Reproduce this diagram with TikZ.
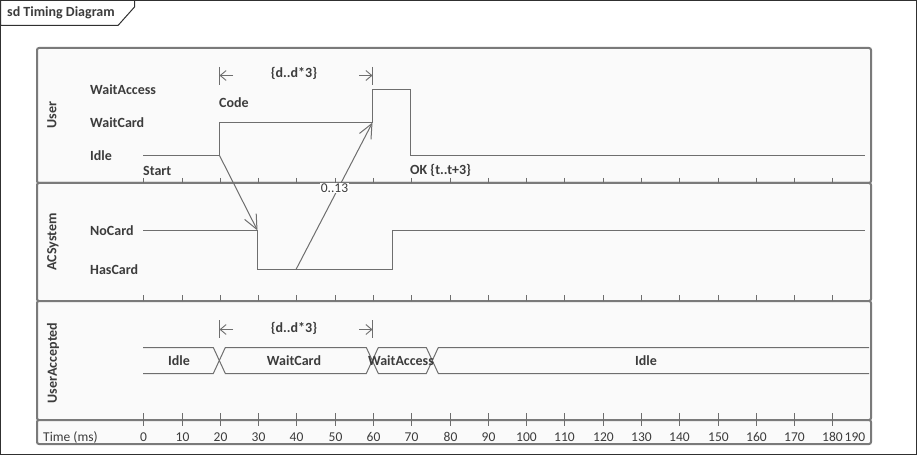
\documentclass[tikz,border=0pt]{standalone}
\usepackage{fontspec}
\setmainfont{Carlito}
\usetikzlibrary{arrows.meta}
\definecolor{txt}{HTML}{3C3C3C}
\definecolor{ln}{HTML}{6E6E6E}
\definecolor{lanec}{HTML}{7A7A7A}
\definecolor{lanefill}{HTML}{FAFAFA}
\definecolor{framec}{HTML}{303030}
\begin{document}
\begin{tikzpicture}[x=1pt,y=-1pt,
  lbl/.style={text=txt, font=\fontsize{14}{16}\selectfont\bfseries, inner sep=0pt},
  reg/.style={text=txt, font=\fontsize{13.5}{16}\selectfont, inner sep=0pt},
  lanebox/.style={draw=lanec, line width=2pt, fill=lanefill, rounded corners=2pt},
  sig/.style={draw=ln, line width=1pt},
  msg/.style={draw=ln, line width=1pt, -{Straight Barb[length=14.5pt,width=13pt]}},
  dur/.style={draw=ln, line width=0.9pt, -{Straight Barb[length=6pt,width=10pt]}},
  tick/.style={draw=ln, line width=1pt}
]
\useasboundingbox (0,0) rectangle (918,457);
% outer frame and header
\draw[framec, line width=1pt] (0.5,0.5) rectangle (916.5,454.5);
\draw[framec, line width=1pt, fill=white] (0.5,0.5) -- (134.5,0.5) -- (134.5,7) -- (118,25.5) -- (0.5,25.5) -- cycle;
\node[lbl, anchor=west] (title) at (7,12.5) {sd Timing Diagram};

% lanes
\draw[lanebox] (37,48) rectangle (871,183);
\draw[lanebox] (37,183) rectangle (871,301);
\draw[lanebox] (37,301) rectangle (871,420);
\draw[lanebox] (37,420) rectangle (871,444);

% lane names
\node[lbl, rotate=90] (lnUser) at (52,115) {User};
\node[lbl, rotate=90] (lnAC) at (53,242) {ACSystem};
\node[lbl, rotate=90] (lnUA) at (53,363) {UserAccepted};

% ticks and time labels
\foreach \t in {0,10,...,180} {
  \pgfmathsetmacro{\xx}{round(143.3+3.828*\t)+0.5}
  \draw[tick] (\xx,178) -- (\xx,183);
  \draw[tick] (\xx,295) -- (\xx,301);
  \draw[tick] (\xx,413) -- (\xx,426);
  \node[reg] (tl\t) at (\xx,437) {\t};
}
\node[reg] (tl190) at (855,437) {190};
\node[reg, anchor=west] (timelbl) at (43,437) {Time (ms)};

% User lane state labels
\node[lbl, anchor=west] (sWA) at (90,89.5) {WaitAccess};
\node[lbl, anchor=west] (sWC) at (90,122.5) {WaitCard};
\node[lbl, anchor=west] (sId) at (90,155.5) {Idle};
\node[lbl, anchor=west] (start) at (143,170.5) {Start};
\node[lbl, anchor=west] (code) at (219,102.5) {Code};
\node[lbl, anchor=west] (ok) at (410,170.5) {OK {\{}t..t+3{\}}};

% User timeline
\coordinate (u0) at (143,155.5);
\coordinate (u20) at (219.5,155.5);
\coordinate (u20w) at (219.5,122.5);
\coordinate (u60w) at (372.5,122.5);
\coordinate (u60a) at (372.5,89.5);
\coordinate (u70a) at (410.5,89.5);
\coordinate (u70i) at (410.5,155.5);
\coordinate (uend) at (865,155.5);
\draw[sig] (u0) -- (u20) -- (u20w) -- (u60w) -- (u60a) -- (u70a) -- (u70i) -- (uend);

% duration constraint (User)
\coordinate (d1a) at (219.5,67); \coordinate (d1b) at (219.5,85);
\coordinate (d2a) at (372.5,67); \coordinate (d2b) at (372.5,85);
\draw[tick] (d1a) -- (d1b);
\draw[tick] (d2a) -- (d2b);
\coordinate (d1s) at (233,75.5); \coordinate (d1t) at (219.5,75.5);
\coordinate (d2s) at (359,75.5); \coordinate (d2t) at (372.5,75.5);
\draw[dur] (d1s) -- (d1t);
\draw[dur] (d2s) -- (d2t);
\node[lbl] (dc1) at (294,73.5) {{\{}d..d*3{\}}};

% ACSystem lane
\node[lbl, anchor=west] (sNC) at (90,231) {NoCard};
\node[lbl, anchor=west] (sHC) at (90,270) {HasCard};
\coordinate (a0) at (143,230.5);
\coordinate (a30) at (257.5,230.5);
\coordinate (a30h) at (257.5,269.5);
\coordinate (a40h) at (296,269.5);
\coordinate (a65h) at (392.5,269.5);
\coordinate (a65n) at (392.5,230.5);
\coordinate (aend) at (865,230.5);
\draw[sig] (a0) -- (a30) -- (a30h) -- (a65h) -- (a65n) -- (aend);

% messages
\draw[msg] (u20) -- (a30);
\draw[msg] (a40h) -- (u60w);
\node[reg, fill=white, inner sep=1pt] (m2lbl) at (334.5,188) {0..13};

% UserAccepted lane
\draw[tick] (219.5,320) -- (219.5,338);
\draw[tick] (372.5,320) -- (372.5,338);
\coordinate (e1s) at (233,329.5); \coordinate (e1t) at (219.5,329.5);
\coordinate (e2s) at (359,329.5); \coordinate (e2t) at (372.5,329.5);
\draw[dur] (e1s) -- (e1t);
\draw[dur] (e2s) -- (e2t);
\node[lbl] (dc2) at (294,328.5) {{\{}d..d*3{\}}};

\def\bt{347.5}\def\bb{373.5}
\draw[sig] (143,\bt) -- (213.3,\bt) -- (225.3,\bb) -- (366.3,\bb) -- (378.3,\bt) -- (426.3,\bt) -- (438.3,\bb) -- (869,\bb);
\draw[sig] (143,\bb) -- (213.3,\bb) -- (225.3,\bt) -- (366.3,\bt) -- (378.3,\bb) -- (426.3,\bb) -- (438.3,\bt) -- (869,\bt);
\node[lbl] (bIdle1) at (179,361) {Idle};
\node[lbl] (bWC) at (294,361) {WaitCard};
\node[lbl] (bWA) at (401,361) {WaitAccess};
\node[lbl] (bIdle2) at (646,361) {Idle};
\end{tikzpicture}
\end{document}
